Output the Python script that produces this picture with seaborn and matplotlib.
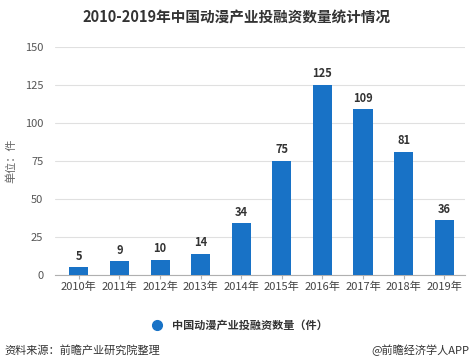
import matplotlib
matplotlib.use("Agg")
import matplotlib.pyplot as plt
import seaborn as sns
import pandas as pd
from matplotlib.lines import Line2D

years = ["2010年", "2011年", "2012年", "2013年", "2014年", "2015年", "2016年", "2017年", "2018年", "2019年"]
values = [5, 9, 10, 14, 34, 75, 125, 109, 81, 36]
yticks = [0, 25, 50, 75, 100, 125, 150]
title = "2010-2019年中国动漫产业投融资数量统计情况"
series_name = "中国动漫产业投融资数量（件）"
unit_label = "单位：件"
source = "资料来源：前瞻产业研究院整理"
credit = "@前瞻经济学人APP"

sns.set_style("white")
plt.rcParams['font.family'] = ['Noto Sans CJK SC', 'DejaVu Sans']

df = pd.DataFrame({"year": years, "value": values})

fig = plt.figure(figsize=(4.74, 3.59), dpi=100)
ax = fig.add_axes([0.115, 0.234, 0.865, 0.635])

bar_color = "#1872c6"
sns.barplot(data=df, x="year", y="value", color=bar_color, saturation=1, width=0.47, ax=ax, zorder=3)
for p in ax.patches:
    p.set_edgecolor("none")

for i, v in enumerate(values):
    ax.text(i, v + 3, str(v), ha="center", va="bottom", fontsize=8, fontweight="bold", color="#333333")

ax.set_ylim(0, 150)
ax.set_xlim(-0.6, 9.5)
ax.set_yticks(yticks)
ax.grid(axis="y", color="#e0e0e0", linewidth=0.8, zorder=0)
ax.grid(axis="x", visible=False)
for s in ["top", "right", "left"]:
    ax.spines[s].set_visible(False)
ax.spines["bottom"].set_color("#b0b0b0")
ax.spines["bottom"].set_linewidth(0.8)
ax.tick_params(axis="x", length=3, color="#b0b0b0", labelsize=8, labelcolor="#444444", pad=2, bottom=True)
ax.tick_params(axis="y", length=0, labelsize=8, labelcolor="#555555", pad=8)
ax.set_xlabel("")
ax.set_ylabel(unit_label, fontsize=8, color="#666666", labelpad=6)

fig.text(0.5, 0.952, title, ha="center", va="center", fontsize=10.5, fontweight="bold", color="#333333")

handle = Line2D([0], [0], marker="o", linestyle="none", markersize=7, markerfacecolor=bar_color, markeredgecolor=bar_color)
fig.legend([handle], [series_name], loc="center", bbox_to_anchor=(0.5, 0.095), frameon=False,
           prop={"size": 8, "weight": "bold"}, handletextpad=0.3, labelcolor="#333333")

fig.text(0.01, 0.025, source, ha="left", va="center", fontsize=8, color="#333333")
fig.text(0.99, 0.025, credit, ha="right", va="center", fontsize=8, color="#333333")

fig.savefig("out.png", dpi=100)
